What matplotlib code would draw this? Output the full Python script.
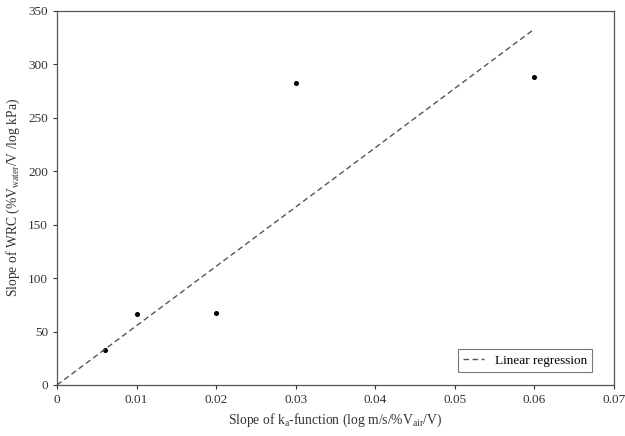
import numpy as np
import matplotlib.pyplot as plt

plt.rcParams["font.family"] = ["Liberation Serif", "DejaVu Serif"]
plt.rcParams["mathtext.fontset"] = "custom"
plt.rcParams["mathtext.rm"] = "Liberation Serif"
plt.rcParams["mathtext.it"] = "Liberation Serif"

# measured points
slope_ka = [0.006, 0.01, 0.02, 0.03, 0.06]
slope_wrc = [33, 66, 67, 283, 288]

# regression line (through origin)
reg_x = [0.0, 0.06]
reg_y = [0.0, 333.0]

fig = plt.figure(figsize=(6.25, 4.36), dpi=100)
ax = fig.add_axes([0.0912, 0.117, 0.891, 0.858])

ax.plot(slope_ka, slope_wrc, linestyle="none", marker="o", ms=2.6,
        color="black")
ax.plot(reg_x, reg_y, linestyle=(0, (4, 2.5)), color="#555555", lw=1.0,
        label="Linear regression")

ax.set_xlim(0, 0.07)
ax.set_ylim(0, 350)
ax.set_xticks(np.arange(0, 0.071, 0.01))
ax.set_xticklabels(["0", "0.01", "0.02", "0.03", "0.04", "0.05", "0.06", "0.07"])
ax.set_yticks(np.arange(0, 351, 50))
ax.tick_params(labelsize=9.5, length=3, width=0.8, colors="#333333")
for s in ax.spines.values():
    s.set_color("#555555")
    s.set_linewidth(0.9)

ax.set_xlabel("Slope of k$_{\\mathrm{a}}$-function (log m/s/%V$_{\\mathrm{air}}$/V)",
              fontsize=9.8, color="#333333")
ax.set_ylabel("Slope of WRC (%V$_{\\mathrm{water}}$/V /log kPa)",
              fontsize=9.8, color="#333333")

leg = ax.legend(loc="lower right", fontsize=9.5, frameon=True, fancybox=False,
                handlelength=1.6, borderaxespad=1.0,
                bbox_to_anchor=(0.985, 0.0))
leg.get_frame().set_edgecolor("#555555")
leg.get_frame().set_linewidth(0.8)

fig.savefig("out.png", dpi=100)
